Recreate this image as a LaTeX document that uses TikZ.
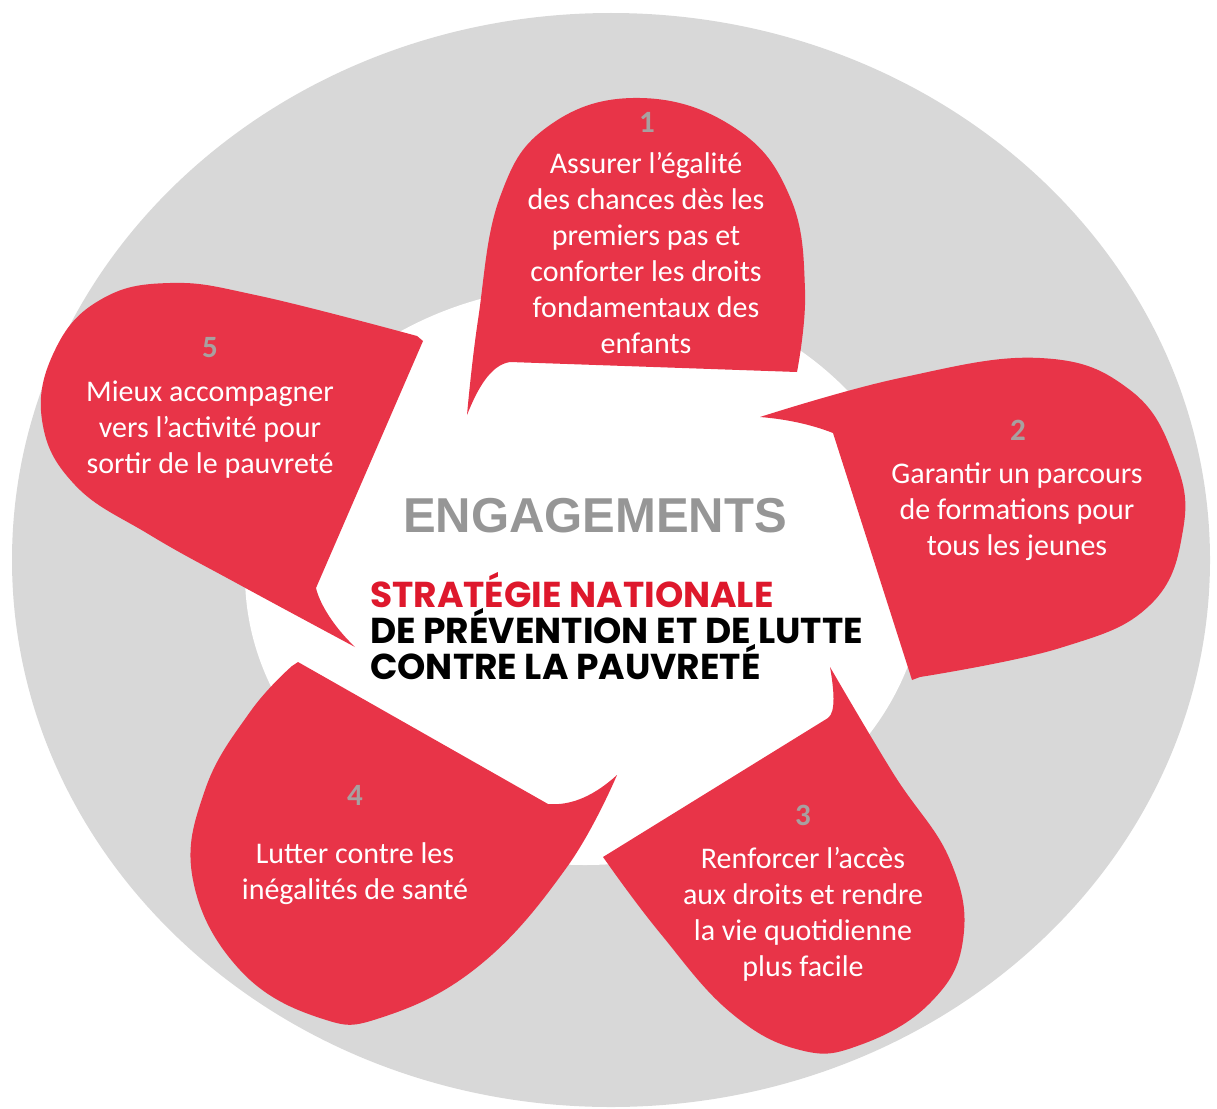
\documentclass[tikz,border=0pt]{standalone}
\usepackage{fontspec}
\setmainfont{Carlito}
\newfontfamily\headfont{Liberation Sans}
\newfontfamily\stratfont{Poppins}
\usetikzlibrary{positioning}
\definecolor{bubblered}{RGB}{232,52,72}
\definecolor{ringgrey}{RGB}{216,216,216}
\definecolor{numgrey}{RGB}{168,160,160}
\definecolor{headgrey}{RGB}{150,150,150}
\definecolor{stratred}{RGB}{222,24,44}

\begin{document}
\begin{tikzpicture}
[x = 1pt, y = -1pt,
bubble/.style = {fill = bubblered},
num/.style = {text = numgrey, inner sep = 0pt, font = \fontsize{31}{36}\selectfont\bfseries},
txt/.style = {text = white, align = center, inner sep = 0pt, font = \fontsize{30}{36}\selectfont}]
\useasboundingbox (0,0) rectangle (1217,1108);
\fill[ringgrey] (611,560) ellipse [x radius = 599, y radius = 547];
\fill[white] (585,575) ellipse [x radius = 340, y radius = 290];
\fill[bubble] plot[smooth, tension = 0.7] coordinates {(467,415) (478,320) (500,197) (550,125) (640,98) (735,128) (790,197) (805,290) (797,372)}
  -- (510,362) .. controls (490,365) and (477,390) .. (467,415) -- cycle;
\fill[bubble] plot[smooth, tension = 0.7] coordinates {(760,417) (900,378) (1040,358) (1130,390) (1175,460) (1183,530) (1150,605) (1060,648) (920,677)}
  -- (912,680) -- (833,433) .. controls (810,424) and (785,419) .. (760,417) -- cycle;
\fill[bubble] plot[smooth, tension = 0.7] coordinates {(830,667) (893,773) (950,860) (963,940) (930,1003) (860,1045) (800,1050) (730,1012) (660,933) (608,864)}
  -- (603,857) -- (828,718) .. controls (836,712) and (834,690) .. (830,667) -- cycle;
\fill[bubble] plot[smooth, tension = 0.7] coordinates {(617,775) (567,867) (480,965) (383,1017) (320,1018) (240,970) (193,880) (205,790) (250,712) (292,666)}
  -- (298,662) -- (548,804) .. controls (572,806) and (595,795) .. (617,775) -- cycle;
\fill[bubble] plot[smooth, tension = 0.7] coordinates {(355,647) (240,585) (150,535) (75,485) (42,420) (55,350) (100,300) (170,283) (260,296) (417,336)}
  -- (423,341) -- (316,588) .. controls (320,605) and (335,628) .. (355,647) -- cycle;
\node (n1) at (647,122)[num] {1};
\node (t1) at (646,253)[txt] {Assurer l’égalité\\des chances dès les\\premiers pas et\\conforter les droits\\fondamentaux des\\enfants};
\node (n2) at (1018,430)[num] {2};
\node (t2) at (1017,512)[txt] {Garantir un parcours\\de formations pour\\tous les jeunes};
\node (n3) at (803,815)[num] {3};
\node (t3) at (803,914)[txt] {Renforcer l’accès\\aux droits et rendre\\la vie quotidienne\\plus facile};
\node (n4) at (355,795)[num] {4};
\node (t4) at (355,874)[txt] {Lutter contre les\\inégalités de santé};
\node (n5) at (210,348)[num] {5};
\node (t5) at (210,430)[txt] {Mieux accompagner\\vers l’activité pour\\sortir de le pauvreté};
\node (eng) at (595,516)[text = headgrey, inner sep = 0pt, font = \headfont\bfseries\fontsize{49}{50}\selectfont] {ENGAGEMENTS};
\node (strat) at (370,626)[anchor = west, align = left, inner sep = 0pt, font = \stratfont\bfseries\fontsize{36}{36}\selectfont]
  {\textcolor{stratred}{STRATÉGIE NATIONALE}\\DE PRÉVENTION ET DE LUTTE\\CONTRE LA PAUVRETÉ};
\end{tikzpicture}
\end{document}
